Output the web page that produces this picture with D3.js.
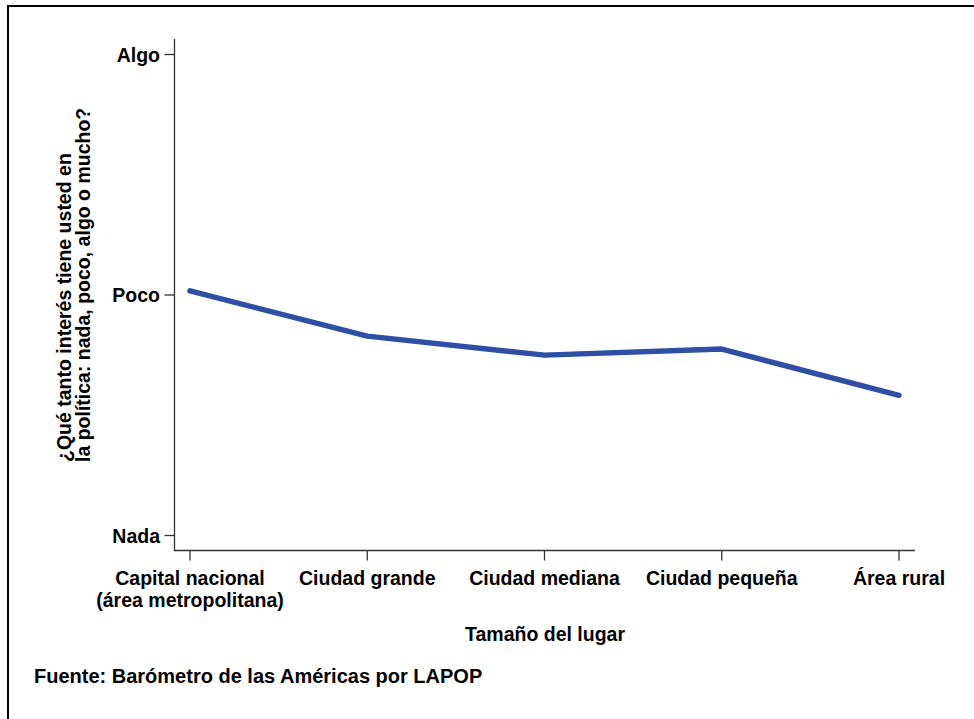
<!DOCTYPE html>
<html><head><meta charset="utf-8">
<script src="https://cdn.jsdelivr.net/npm/d3@7"></script>
<style>body{margin:0;background:#fff}svg{display:block}text{font-family:"Liberation Sans",Arial,sans-serif;font-weight:bold;fill:#000}</style>
</head><body>
<script>
const categories = [["Capital nacional","(área metropolitana)"],["Ciudad grande"],["Ciudad mediana"],["Ciudad pequeña"],["Área rural"]];
const values = [1.017, 0.829, 0.75, 0.775, 0.583];
const yTickValues = [0, 1, 2];
const yTickLabels = ["Nada", "Poco", "Algo"];
const yTitle = ["¿Qué tanto interés tiene usted en", "la política: nada, poco, algo o mucho?"];
const xTitle = "Tamaño del lugar";
const source = "Fuente: Barómetro de las Américas por LAPOP";

const W = 974, H = 719;
const FS = 19.5;
const svg = d3.select("body").append("svg").attr("width", W).attr("height", H);
svg.append("path").attr("d", `M8,${H+5}V6H${W+5}`).attr("fill","none").attr("stroke","#000").attr("stroke-width",2);

const x = d3.scalePoint().domain(d3.range(categories.length)).range([190, 899]);
const y = d3.scaleLinear().domain([0, 2]).range([535.5, 54.5]);

// y axis
const gy = svg.append("g");
gy.append("line").attr("x1",174.5).attr("x2",174.5).attr("y1",39).attr("y2",551).attr("stroke","#333").attr("stroke-width",1.3);
yTickValues.forEach((v,i)=>{
  gy.append("line").attr("x1",164.5).attr("x2",174.5).attr("y1",y(v)).attr("y2",y(v)).attr("stroke","#333").attr("stroke-width",1.3);
  gy.append("text").attr("x",160).attr("y",y(v)).attr("dy","0.36em").attr("text-anchor","end").attr("font-size",FS).text(yTickLabels[i]);
});
// x axis
const gx = svg.append("g");
gx.append("line").attr("x1",174).attr("x2",915).attr("y1",550.5).attr("y2",550.5).attr("stroke","#333").attr("stroke-width",1.3);
categories.forEach((c,i)=>{
  gx.append("line").attr("x1",x(i)).attr("x2",x(i)).attr("y1",550.5).attr("y2",560.5).attr("stroke","#333").attr("stroke-width",1.3);
  c.forEach((s,j)=>gx.append("text").attr("x",x(i)).attr("y",585+j*22).attr("text-anchor","middle").attr("font-size",FS).text(s));
});

// line
svg.append("path").datum(values)
  .attr("d", d3.line().x((d,i)=>x(i)).y(d=>y(d)))
  .attr("fill","none").attr("stroke","#2e4fa3").attr("stroke-width",5.5).attr("stroke-linecap","round").attr("stroke-linejoin","round");

// titles
yTitle.forEach((s,j)=>{
  svg.append("text").attr("transform",`translate(${71+j*19},462) rotate(-90)`).attr("text-anchor","start").attr("font-size",FS).text(s);
});
svg.append("text").attr("x",545).attr("y",641).attr("text-anchor","middle").attr("font-size",FS).text(xTitle);
svg.append("text").attr("x",34).attr("y",683).attr("font-size",20).text(source);
</script>
</body></html>
